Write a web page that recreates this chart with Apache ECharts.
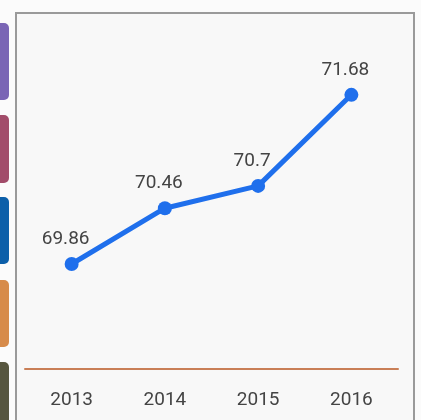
<!DOCTYPE html>
<html>
<head>
<meta charset="utf-8">
<script src="https://cdn.jsdelivr.net/npm/echarts@6/dist/echarts.min.js"></script>
<style>html,body{margin:0;padding:0;background:#f9f9f9;}#c{width:421px;height:420px;}</style>
</head>
<body>
<div id="c"></div>
<script>
var years = ['2013', '2014', '2015', '2016'];
var values = [69.86, 70.46, 70.7, 71.68];
var tabColors = ['#7a65b5', '#a24c6a', '#0c5fa9', '#d78b4a', '#57563f'];
var tabTops = [23, 115, 197, 280, 362];
var tabBottoms = [100, 183, 264, 347, 430];

var chart = echarts.init(document.getElementById('c'), null, {renderer: 'canvas'});
var graphics = [];
tabColors.forEach(function (c, i) {
  graphics.push({
    type: 'rect', left: -6, top: tabTops[i],
    shape: {width: 15, height: tabBottoms[i] - tabTops[i], r: 5},
    style: {fill: c}, z: 1
  });
});
graphics.push({
  type: 'rect', left: 15, top: 12,
  shape: {width: 398, height: 430},
  style: {fill: '#f8f8f8', stroke: '#9a9a9a', lineWidth: 2}, z: -1
});

chart.setOption({
  backgroundColor: '#fbfbfb',
  animation: false,
  graphic: graphics,
  grid: {left: 25, right: 23, top: 40, bottom: 51},
  xAxis: {
    type: 'category',
    data: years,
    boundaryGap: true,
    axisLine: {lineStyle: {color: '#c97f57', width: 2}},
    axisTick: {show: false},
    axisLabel: {color: '#444', fontSize: 19, margin: 22, fontFamily: 'Roboto, sans-serif'}
  },
  yAxis: {
    type: 'value',
    min: 68.73,
    max: 72.27,
    show: false,
    splitLine: {show: false}
  },
  series: [{
    type: 'line',
    data: values,
    symbol: 'circle',
    symbolSize: 14,
    lineStyle: {color: '#1f6fec', width: 5},
    itemStyle: {color: '#1f6fec'},
    label: {
      show: true, position: 'top', distance: 8, offset: [-6, 0],
      color: '#444', fontSize: 19, fontFamily: 'Roboto, sans-serif'
    }
  }]
});
</script>
</body>
</html>
